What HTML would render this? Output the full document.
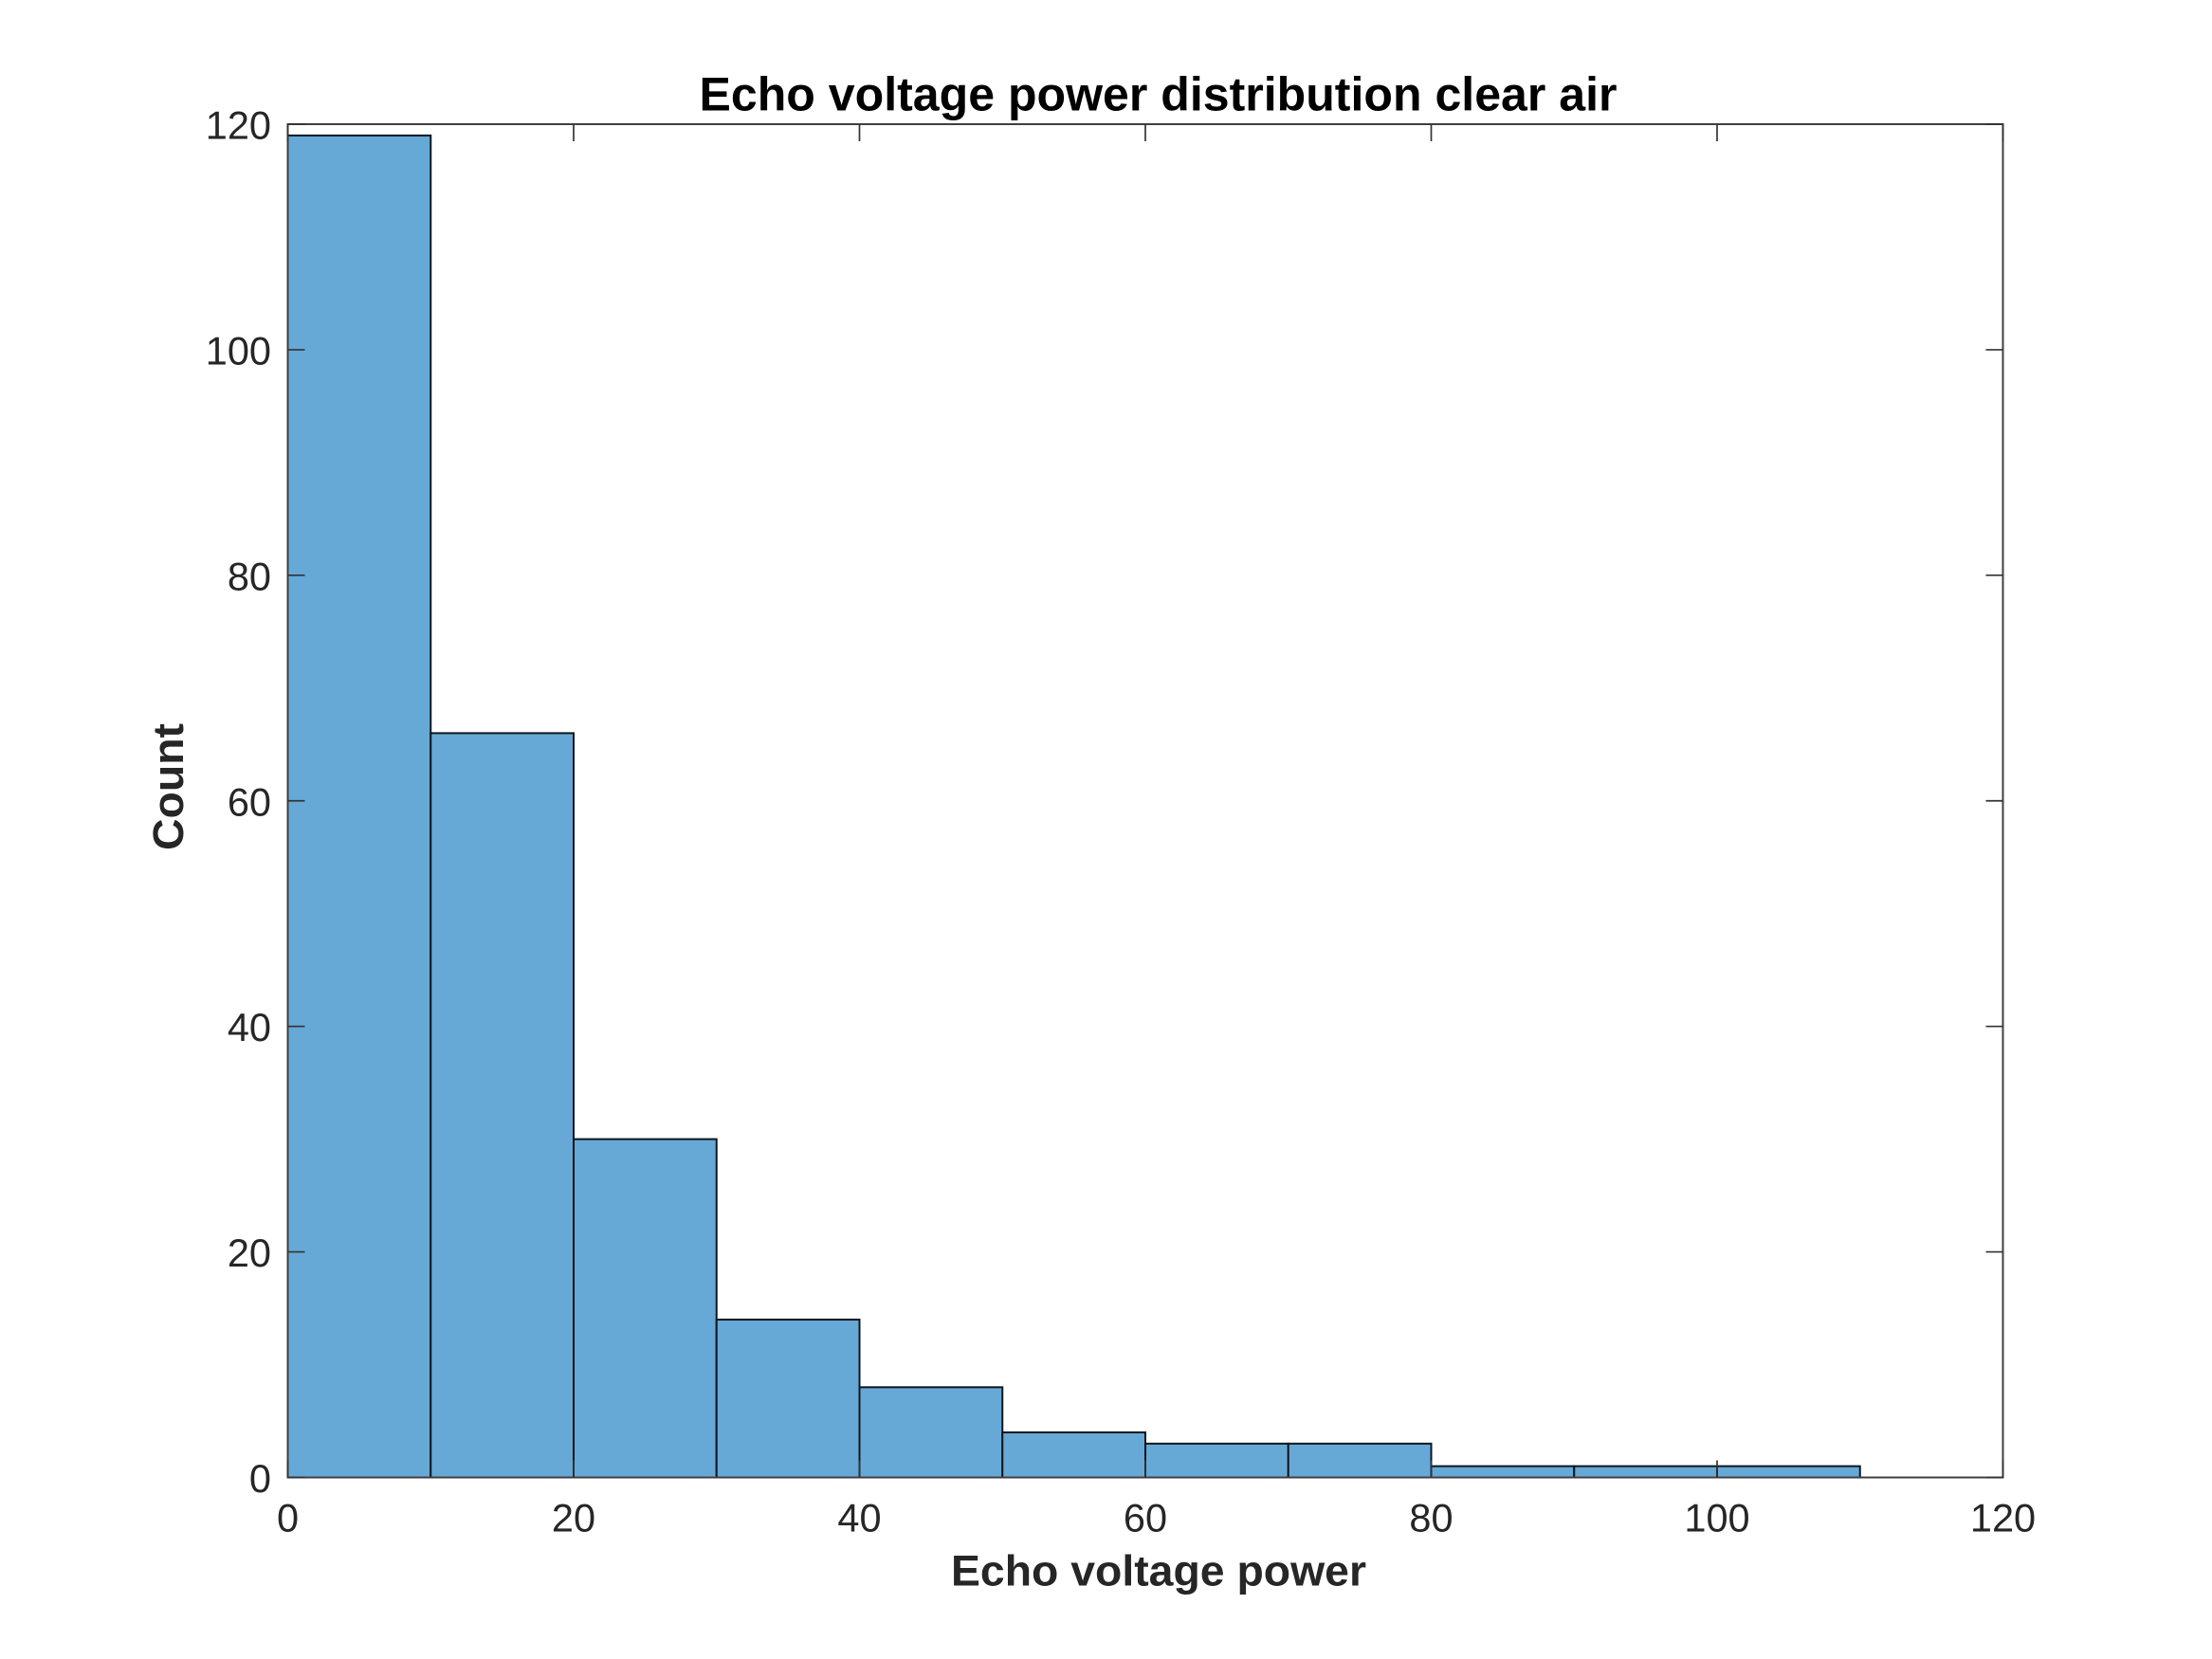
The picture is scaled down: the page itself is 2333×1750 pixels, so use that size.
<!DOCTYPE html>
<html lang="en">
<head>
<meta charset="utf-8">
<title>Echo voltage power distribution clear air</title>
<style>
html,body{margin:0;padding:0;background:#fff;}
svg{display:block;}
text{font-family:"Liberation Sans",Arial,sans-serif;}
</style>
</head>
<body>
<svg id="chart" xmlns="http://www.w3.org/2000/svg" width="2333" height="1750" viewBox="0 0 2333 1750">
<rect x="0" y="0" width="2333" height="1750" fill="#ffffff"/>
<g id="bars"></g>
<rect x="303.5" y="131" width="1809" height="1427.5" fill="none" stroke="#404040" stroke-width="2"/>
<g id="ticks"></g>
<g id="labels"></g>
<text x="737.5" y="116.5" font-size="50" font-weight="700" fill="#000000" textLength="968" lengthAdjust="spacingAndGlyphs">Echo voltage power distribution clear air</text>
<text x="1003" y="1672.5" font-size="45.5" font-weight="700" fill="#262626" textLength="438" lengthAdjust="spacingAndGlyphs">Echo voltage power</text>
<text transform="translate(193 897) rotate(-90)" x="0" y="0" font-size="45.5" font-weight="700" fill="#262626" textLength="134" lengthAdjust="spacingAndGlyphs">Count</text>
</svg>
<script>
const binStart = 0;
const binWidth = 10;
const counts = [119, 66, 30, 14, 8, 4, 3, 3, 1, 1, 1];
const xTicks = [0, 20, 40, 60, 80, 100, 120];
const yTicks = [0, 20, 40, 60, 80, 100, 120];

const NS = 'http://www.w3.org/2000/svg';
const plot = { left: 303.5, right: 2112.5, top: 131, bottom: 1558.5 };
const tickLength = 18;

function xScale(v) {
  const lo = xTicks[0], hi = xTicks[xTicks.length - 1];
  return plot.left + (v - lo) / (hi - lo) * (plot.right - plot.left);
}
function yScale(v) {
  const lo = yTicks[0], hi = yTicks[yTicks.length - 1];
  return plot.bottom - (v - lo) / (hi - lo) * (plot.bottom - plot.top);
}
function make(tag, attrs, parent) {
  const el = document.createElementNS(NS, tag);
  for (const k in attrs) el.setAttribute(k, attrs[k]);
  parent.appendChild(el);
  return el;
}

const barsGroup = document.getElementById('bars');
counts.forEach(function (c, i) {
  const x0 = xScale(binStart + i * binWidth);
  const x1 = xScale(binStart + (i + 1) * binWidth);
  const y = yScale(c);
  const el = make('rect', { x: x0, y: y, width: x1 - x0, height: plot.bottom - y, fill: '#66a9d7', stroke: '#10161b', 'stroke-width': 2 }, barsGroup);
  
  
});

const ticksGroup = document.getElementById('ticks');
const labelsGroup = document.getElementById('labels');
const tickStyle = { stroke: '#333333', 'stroke-width': 1.7, fill: 'none' };

xTicks.forEach(function (v) {
  const x = xScale(v);
  const a = make('line', Object.assign({ x1: x, x2: x, y1: plot.bottom, y2: plot.bottom - tickLength }, tickStyle), ticksGroup);
  
  
  const b = make('line', Object.assign({ x1: x, x2: x, y1: plot.top, y2: plot.top + tickLength }, tickStyle), ticksGroup);
  
  
  const t = make('text', { x: x, y: 1615.5, 'font-size': 41.5, fill: '#262626', 'text-anchor': 'middle' }, labelsGroup);
  t.textContent = String(v);
  
  
});

yTicks.forEach(function (v) {
  const y = yScale(v);
  const a = make('line', Object.assign({ x1: plot.left, x2: plot.left + tickLength, y1: y, y2: y }, tickStyle), ticksGroup);
  
  
  const b = make('line', Object.assign({ x1: plot.right, x2: plot.right - tickLength, y1: y, y2: y }, tickStyle), ticksGroup);
  
  
  const t = make('text', { x: 286, y: y + 15.5, 'font-size': 41.5, fill: '#262626', 'text-anchor': 'end' }, labelsGroup);
  t.textContent = String(v);
  
  
});
</script>
</body>
</html>
